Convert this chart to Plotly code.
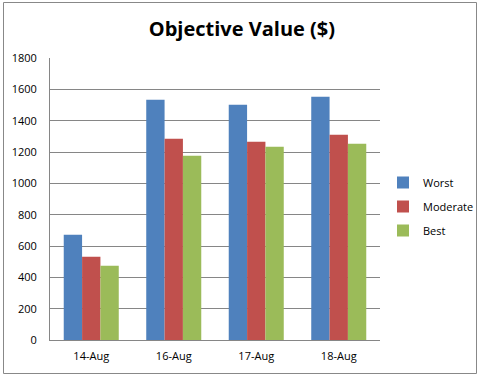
import plotly.graph_objects as go

categories = ["14-Aug", "16-Aug", "17-Aug", "18-Aug"]
worst = [672, 1534, 1502, 1553]
moderate = [532, 1285, 1266, 1310]
best = [474, 1176, 1234, 1253]
series_names = ["Worst", "Moderate", "Best"]
colors = ["#4F81BD", "#C0504D", "#9BBB59"]
y_ticks = [0, 200, 400, 600, 800, 1000, 1200, 1400, 1600, 1800]

fig = go.Figure()
for name, vals, col in zip(series_names, [worst, moderate, best], colors):
    fig.add_trace(go.Bar(name=name, x=categories, y=vals, legendgroup=name,
                         marker=dict(color=col, line=dict(width=0))))

W, H = 479, 376
L, R, T, B = 50, 99, 58, 36
pw, ph = W - L - R, H - T - B

def px_x(p):
    return (p - L) / pw

def px_y(p):
    return (H - B - p) / ph

FONT = "Open Sans, DejaVu Sans, sans-serif"

fig.update_layout(
    width=W, height=H,
    margin=dict(l=L, r=R, t=T, b=B, autoexpand=False),
    paper_bgcolor="white", plot_bgcolor="white",
    barmode="group", bargap=0.333, bargroupgap=0,
    font=dict(family=FONT, size=11, color="black"),
    title=dict(text="<b>Objective Value ($)</b>", x=0.505, xanchor="center", y=1 - 29 / H, yanchor="middle",
               font=dict(size=20, family=FONT, color="black")),
    legend=dict(x=px_x(383), y=px_y(168), xanchor="left", yanchor="top",
                font=dict(size=11), traceorder="grouped", tracegroupgap=5, itemwidth=30,
                bgcolor="rgba(0,0,0,0)"),
    xaxis=dict(showline=True, linecolor="#868686", linewidth=1, ticks="", showgrid=False,
               tickfont=dict(size=11), ticklabelstandoff=6, fixedrange=True),
    yaxis=dict(range=[0, 1800], tickvals=y_ticks, showgrid=True, gridcolor="#868686", gridwidth=1,
               showline=True, linecolor="#868686", linewidth=1, ticks="", ticklen=0,
               tickfont=dict(size=11), ticklabelstandoff=10, zeroline=False, fixedrange=True),
    shapes=[dict(type="rect", xref="paper", yref="paper",
                 x0=px_x(3.5), x1=px_x(476.5), y0=px_y(373.5), y1=px_y(2.5),
                 line=dict(color="#888888", width=1), fillcolor="rgba(0,0,0,0)", layer="below")],
)
fig.write_html("out.html", config={"displayModeBar": False},
               post_script="document.body.style.margin='0px';document.body.style.overflow='hidden';")
